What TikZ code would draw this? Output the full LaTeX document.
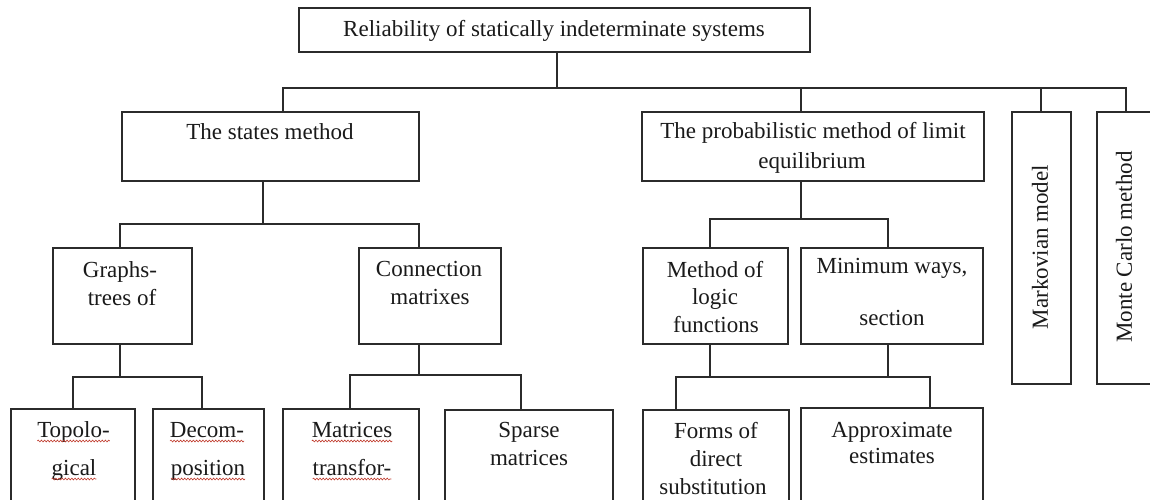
\documentclass[tikz,border=0pt]{standalone}
\usepackage{fontspec}
\setmainfont{Liberation Serif}
\usetikzlibrary{decorations.pathmorphing}
\definecolor{lin}{HTML}{2B2B2B}
\definecolor{txt}{HTML}{1A1A1A}
\definecolor{sq}{HTML}{C0392B}
\begin{document}
\begin{tikzpicture}[x=1pt,y=-1pt,
  box/.style={draw=lin,line width=1.1pt,rectangle,inner sep=0pt,outer sep=0pt},
  lbl/.style={anchor=base,inner sep=0pt,outer sep=0pt,text=txt,font=\fontsize{23}{27}\selectfont},
  vlbl/.style={anchor=center,rotate=90,inner sep=0pt,text=txt,font=\fontsize{23}{27}\selectfont},
  wire/.style={draw=lin,line width=1.1pt},
  squig/.style={draw=sq,line width=0.6pt,decorate,decoration={snake,amplitude=0.9pt,segment length=3.2pt}}]
\useasboundingbox (0,0) rectangle (1150,499);
\fill[white] (0,0) rectangle (1150,499);

% boxes
\node[box,minimum width=511pt,minimum height=44pt] (top) at (554.5,30) {};
\node[box,minimum width=297pt,minimum height=69pt] (states) at (270.5,146.5) {};
\node[box,minimum width=342pt,minimum height=69pt] (prob) at (813,146.5) {};
\node[box,minimum width=59pt,minimum height=272pt] (markov) at (1041.5,248) {};
\node[box,minimum width=59pt,minimum height=272pt] (mc) at (1126.5,248) {};
\node[box,minimum width=139pt,minimum height=96pt] (graphs) at (122.5,296) {};
\node[box,minimum width=142pt,minimum height=96pt] (connm) at (430,296) {};
\node[box,minimum width=145pt,minimum height=96pt] (method) at (715.5,296) {};
\node[box,minimum width=182pt,minimum height=96pt] (minw) at (892,296) {};
\node[box,minimum width=124pt,minimum height=122pt] (topo) at (73,470) {};
\node[box,minimum width=111pt,minimum height=122pt] (decom) at (208.5,470) {};
\node[box,minimum width=136pt,minimum height=122pt] (matr) at (351,470) {};
\node[box,minimum width=168pt,minimum height=120pt] (sparse) at (529,470) {};
\node[box,minimum width=146pt,minimum height=120pt] (forms) at (716,470) {};
\node[box,minimum width=182pt,minimum height=122pt] (approx) at (892,469) {};

% texts
\node[lbl] (t0) at (554,36) {Reliability of statically indeterminate systems};
\node[lbl] (s1) at (270,139) {The states method};
\node[lbl] (p1) at (813,138) {The probabilistic method of limit};
\node[lbl] (p2) at (812,168) {equilibrium};
\node[vlbl] (mk1) at (1040,247) {Markovian model};
\node[vlbl] (mc1) at (1124,247) {Monte Carlo method};
\node[lbl] (g1) at (120,277) {Graphs-};
\node[lbl] (g2) at (122,305) {trees of};
\node[lbl] (c1) at (429,276) {Connection};
\node[lbl] (c2) at (430,304) {matrixes};
\node[lbl] (m1) at (715,277) {Method of};
\node[lbl] (m2) at (715,304) {logic};
\node[lbl] (m3) at (716,332) {functions};
\node[lbl] (n1) at (892,273) {Minimum ways,};
\node[lbl] (n2) at (892,325) {section};
\node[lbl] (tp1) at (73.5,437) {Topolo-};
\node[lbl] (tp2) at (74,475) {gical};
\node[lbl] (dc1) at (207,437) {Decom-};
\node[lbl] (dc2) at (208,475) {position};
\node[lbl] (mt1) at (352,437) {Matrices};
\node[lbl] (mt2) at (352,475) {transfor-};
\node[lbl] (sp1) at (529,437) {Sparse};
\node[lbl] (sp2) at (529,465) {matrices};
\node[lbl] (f1) at (716,438) {Forms of};
\node[lbl] (f2) at (716,466) {direct};
\node[lbl] (f3) at (713,494) {substitution};
\node[lbl] (a1) at (892,437) {Approximate};
\node[lbl] (a2) at (892,463) {estimates};

% spell-check squiggles
\foreach \n in {tp1,tp2,dc1,dc2,mt1,mt2}
  \draw[squig] ([yshift=-4pt]\n.base west) -- ([yshift=-4pt]\n.base east);

% level 1 connectors
\coordinate (j0) at (557,88);
\coordinate (jS) at (283,88);
\coordinate (jP) at (801,88);
\coordinate (jM) at (1041,88);
\coordinate (jC) at (1126,88);
\draw[wire] (top.south -| j0) -- (j0);
\draw[wire] (states.north -| jS) -- (jS) -- (jC) -- (mc.north -| jC);
\draw[wire] (jP) -- (prob.north -| jP);
\draw[wire] (jM) -- (markov.north -| jM);

% level 2 connectors
\coordinate (k0) at (263,224);
\coordinate (kG) at (120,224);
\coordinate (kC) at (419,224);
\draw[wire] (states.south -| k0) -- (k0);
\draw[wire] (graphs.north -| kG) -- (kG) -- (kC) -- (connm.north -| kC);
\coordinate (q0) at (801,219);
\coordinate (qM) at (710,219);
\coordinate (qN) at (888,219);
\draw[wire] (prob.south -| q0) -- (q0);
\draw[wire] (method.north -| qM) -- (qM) -- (qN) -- (minw.north -| qN);

% level 3 connectors
\coordinate (g0) at (120,377);
\coordinate (gT) at (73,377);
\coordinate (gD) at (202,377);
\draw[wire] (graphs.south -| g0) -- (g0);
\draw[wire] (topo.north -| gT) -- (gT) -- (gD) -- (decom.north -| gD);
\coordinate (c0) at (419,375);
\coordinate (cM) at (350,375);
\coordinate (cS) at (521,375);
\draw[wire] (connm.south -| c0) -- (c0);
\draw[wire] (matr.north -| cM) -- (cM) -- (cS) -- (sparse.north -| cS);
\coordinate (m0) at (710,377);
\coordinate (n0) at (888,377);
\coordinate (mF) at (676,377);
\coordinate (mA) at (930,377);
\draw[wire] (method.south -| m0) -- (m0);
\draw[wire] (minw.south -| n0) -- (n0);
\draw[wire] (forms.north -| mF) -- (mF) -- (mA) -- (approx.north -| mA);
\end{tikzpicture}
\end{document}
